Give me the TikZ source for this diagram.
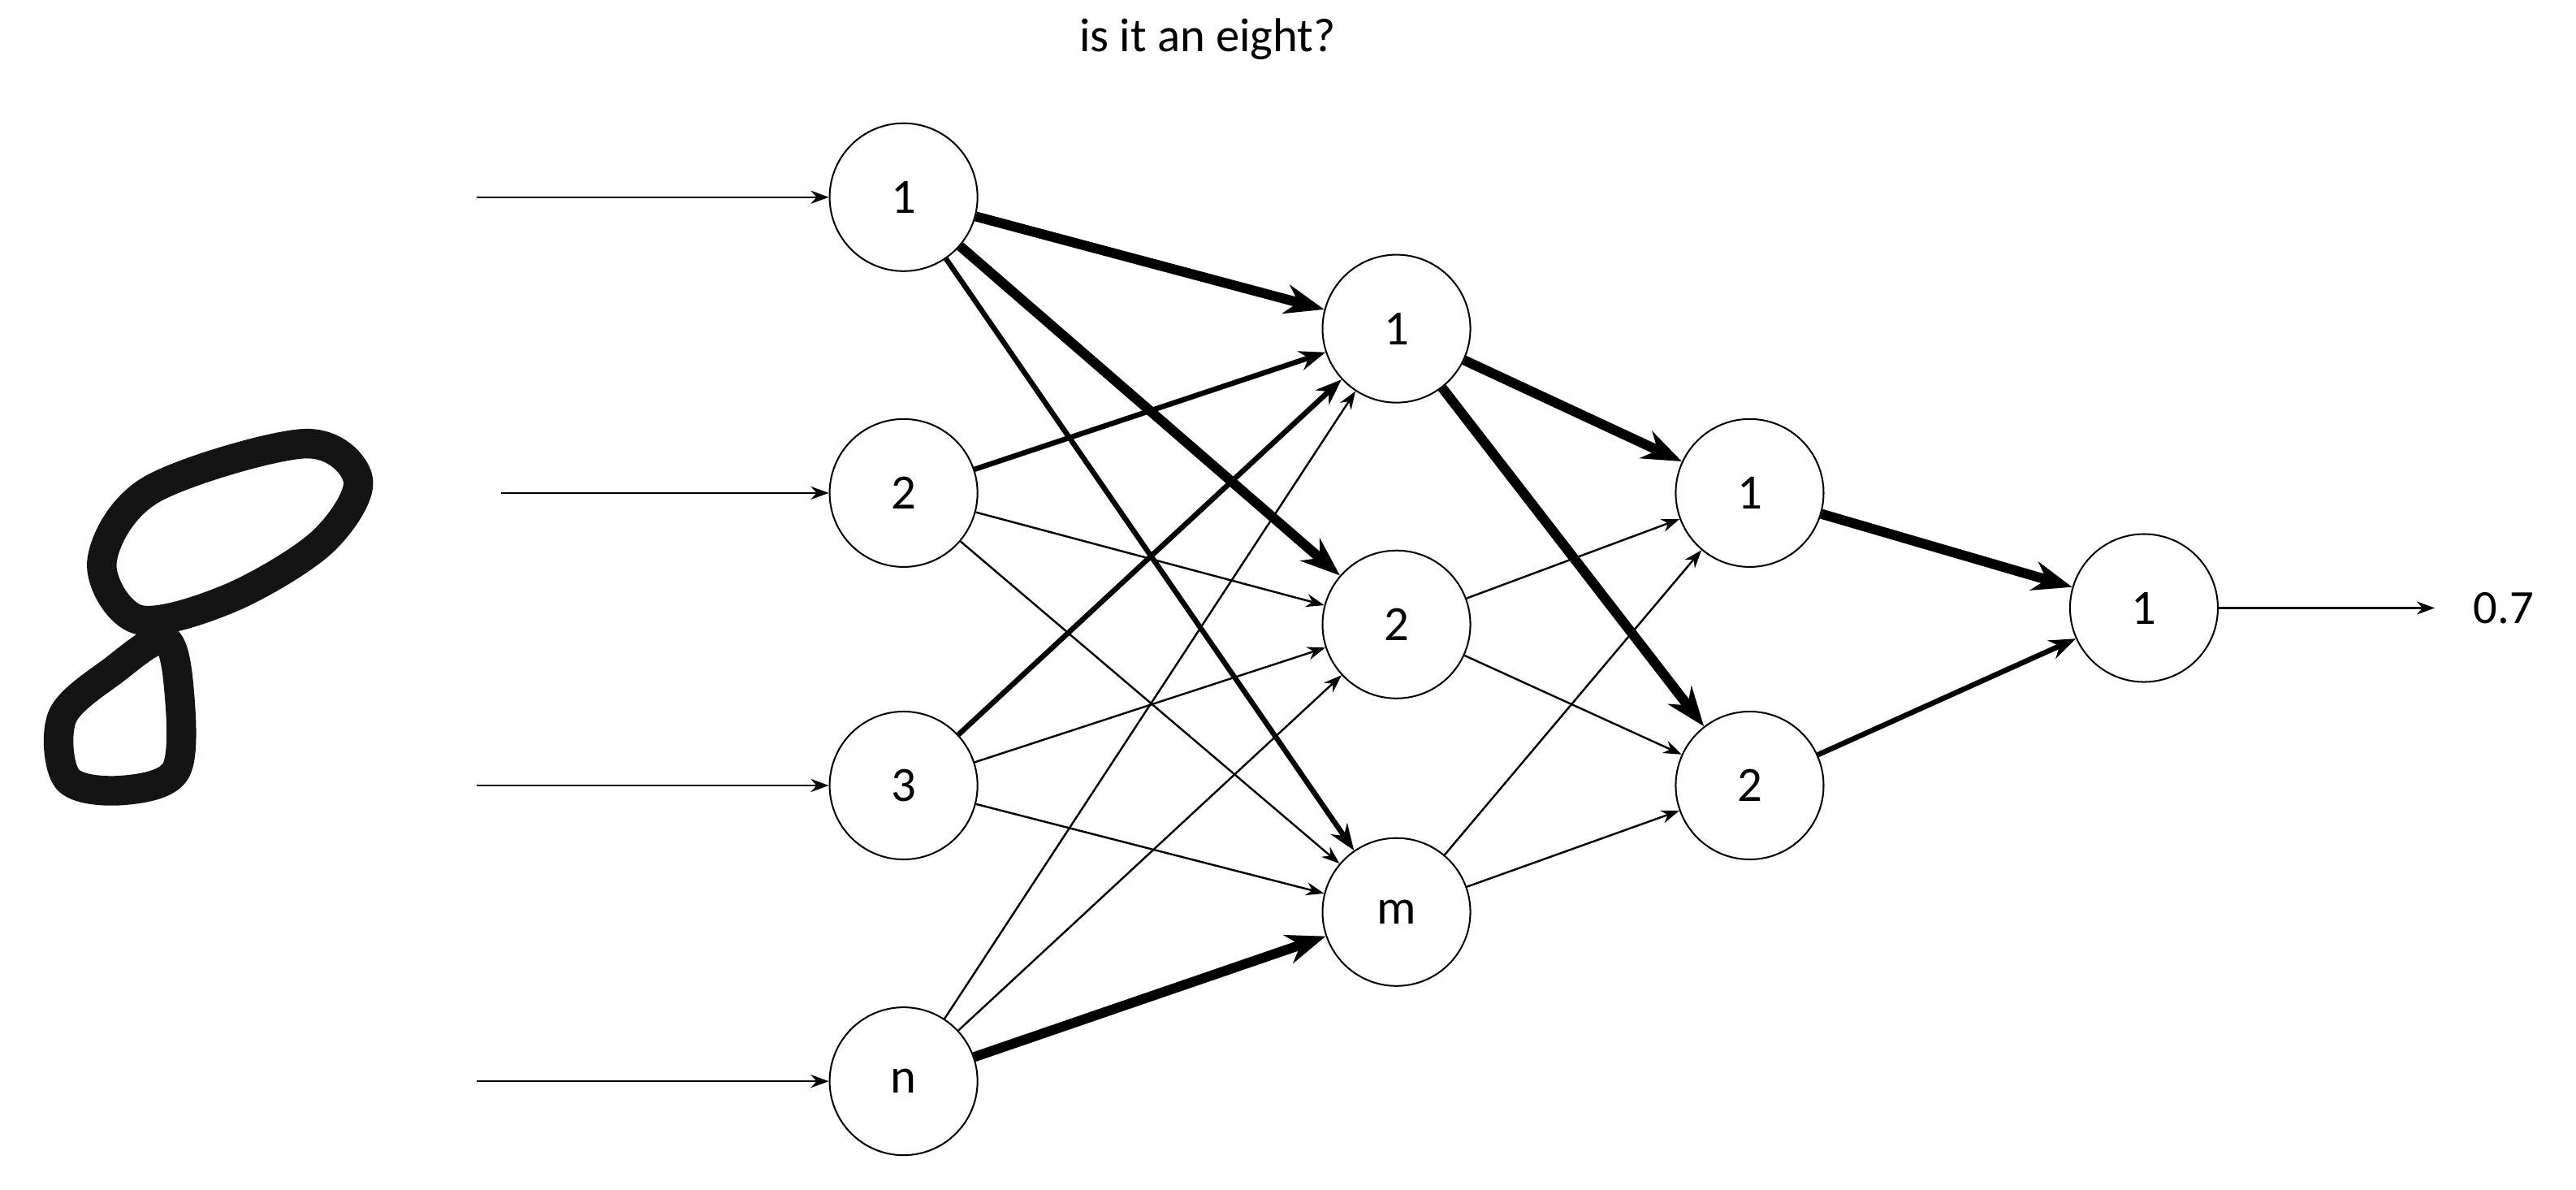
\documentclass[tikz,border=0pt]{standalone}
\usepackage{fontspec}
\setmainfont{Carlito}
\usetikzlibrary{arrows.meta}
\begin{document}
\begin{tikzpicture}[x=1pt,y=-1pt,
  neuron/.style={circle,draw,line width=1pt,minimum size=90pt,inner sep=0pt,font=\fontsize{30}{34}\selectfont},
  thin/.style={line width=1.2pt,-{Stealth[length=11pt,width=8pt]}},
  med/.style={line width=3.2pt,-{Stealth[length=16pt,width=12pt]}},
  bold/.style={line width=6pt,-{Stealth[length=24pt,width=18pt]}},
  lbl/.style={font=\fontsize{29}{33}\selectfont}]
\useasboundingbox (0,0) rectangle (1568,724);
\node[lbl] (title) at (735,24) {is it an eight?};
% digit
\draw[line width=18pt,line join=round,line cap=round,black!92]
 plot[smooth cycle,tension=0.55] coordinates {(62,342) (92,298) (185,270) (218,292) (196,330) (140,364) (84,377)};
\draw[line width=18pt,line join=round,line cap=round,black!92]
 plot[smooth cycle,tension=0.55] coordinates {(69,408) (38,436) (41,474) (74,481) (107,469) (109,420) (100,389)};
% nodes
\node[neuron] (a1) at (550,120) {1};
\node[neuron] (a2) at (550,300) {2};
\node[neuron] (a3) at (550,478) {3};
\node[neuron] (an) at (550,658) {n};
\node[neuron] (b1) at (850,200) {1};
\node[neuron] (b2) at (850,380) {2};
\node[neuron] (bm) at (850,555) {m};
\node[neuron] (c1) at (1065,300) {1};
\node[neuron] (c2) at (1065,478) {2};
\node[neuron] (d1) at (1305,370) {1};
\node[lbl] (out) at (1524,370) {0.7};
\coordinate (i1) at (290,120);
\coordinate (i2) at (305,300);
\coordinate (i3) at (290,478);
\coordinate (i4) at (290,658);
\coordinate (o) at (1482,370);
\draw[thin] (i1) -- (a1);
\draw[thin] (i2) -- (a2);
\draw[thin] (i3) -- (a3);
\draw[thin] (i4) -- (an);
\draw[thin] (d1) -- (o);
% layer 1 -> 2
\draw[bold] (a1) -- (b1);
\draw[bold] (a1) -- (b2);
\draw[med] (a1) -- (bm);
\draw[med] (a2) -- (b1);
\draw[thin] (a2) -- (b2);
\draw[thin] (a2) -- (bm);
\draw[med] (a3) -- (b1);
\draw[thin] (a3) -- (b2);
\draw[thin] (a3) -- (bm);
\draw[thin] (an) -- (b1);
\draw[thin] (an) -- (b2);
\draw[bold] (an) -- (bm);
% layer 2 -> 3
\draw[bold] (b1) -- (c1);
\draw[bold] (b1) -- (c2);
\draw[thin] (b2) -- (c1);
\draw[thin] (b2) -- (c2);
\draw[thin] (bm) -- (c1);
\draw[thin] (bm) -- (c2);
% layer 3 -> 4
\draw[bold] (c1) -- (d1);
\draw[med] (c2) -- (d1);
\end{tikzpicture}
\end{document}
